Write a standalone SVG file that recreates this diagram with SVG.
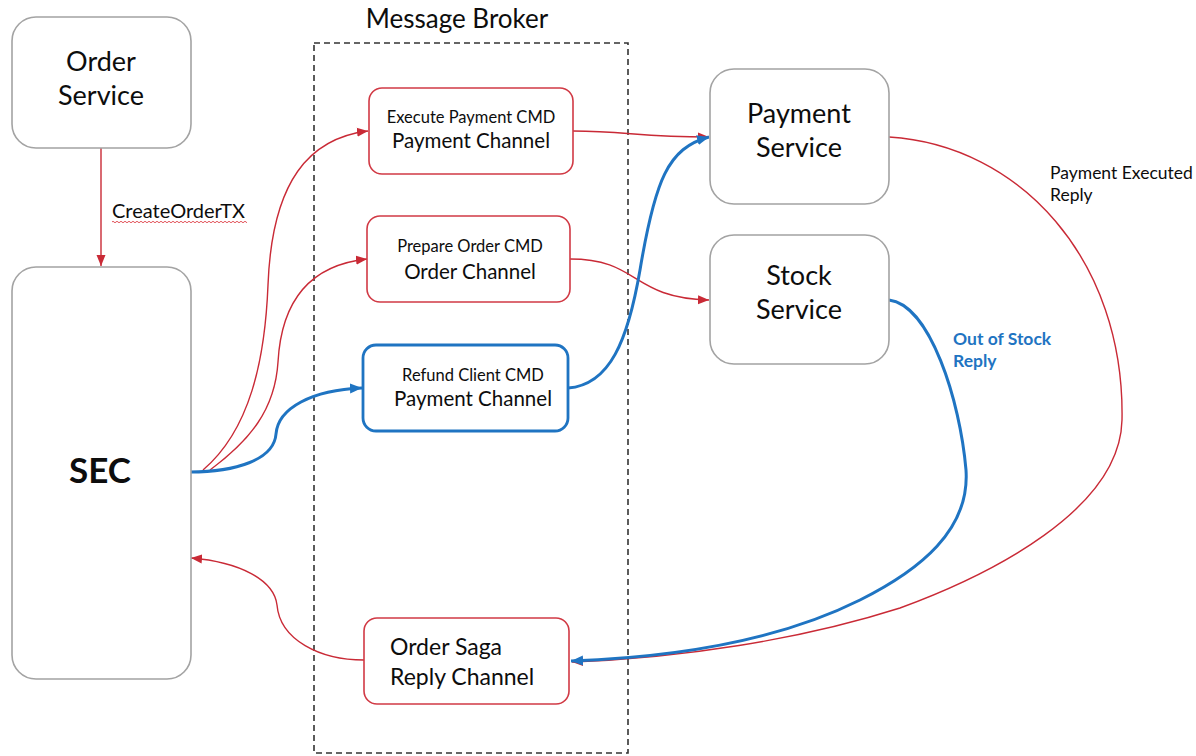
<svg xmlns="http://www.w3.org/2000/svg" width="1196" height="756" viewBox="0 0 1196 756">
  <style>
    text { font-family: Lato, "Open Sans", sans-serif; fill: #0d0d0d; }
    .svc { fill: #fff; stroke: #a3a3a3; stroke-width: 1.6; }
    .chan-red { fill: #fff; stroke: #d13a45; stroke-width: 1.6; }
    .chan-blue { fill: #fff; stroke: #1f74c2; stroke-width: 2.8; }
    .broker { fill: none; stroke: #333; stroke-width: 1.6; stroke-dasharray: 6 4; }
    .red { fill: none; stroke: #c92a36; stroke-width: 1.4; }
    .blue { fill: none; stroke: #1f74c2; stroke-width: 3; }
    .big { font-size: 27px; text-anchor: middle; }
    .cmd { font-size: 16.5px; text-anchor: middle; }
    .ch { font-size: 20.5px; text-anchor: middle; }
    .note { font-size: 17.5px; }
  </style>
  <defs>
    <marker id="ah-red" markerUnits="userSpaceOnUse" markerWidth="12" markerHeight="10" refX="11" refY="5" orient="auto">
      <path d="M0,0.5 L11,5 L0,9.5 z" fill="#c92a36"/>
    </marker>
    <marker id="ah-blue" markerUnits="userSpaceOnUse" markerWidth="13" markerHeight="12" refX="12" refY="6" orient="auto">
      <path d="M0,1 L12,6 L0,11 z" fill="#1f74c2"/>
    </marker>
    <pattern id="squiggle" width="4" height="4" patternUnits="userSpaceOnUse">
      <path d="M0 2 Q1 0.5 2 2 T4 2" fill="none" stroke="#d9262e" stroke-width="0.8"/>
    </pattern>
  </defs>

  <!-- broker boundary -->
  <g id="message-broker">
    <rect class="broker" x="314" y="43" width="314" height="710"/>
    <text x="457" y="28" font-size="26" text-anchor="middle">Message Broker</text>
  </g>

  <!-- connectors -->
  <g id="connectors">
    <path class="red" d="M101 148 L101 266" marker-end="url(#ah-red)"/>
    <path class="red" d="M203 470 C250 430, 265 360, 268 285 C272 180, 310 138, 368 131" marker-end="url(#ah-red)"/>
    <path class="red" d="M210 470 C250 440, 275 410, 278 362 C282 290, 320 264, 367 259" marker-end="url(#ah-red)"/>
    <path class="blue" d="M190 472 C235 472, 274 460, 276 434 C278 408, 312 390, 362 388" marker-end="url(#ah-blue)"/>
    <path class="red" d="M573 131 C625 131, 640 137, 709 137" marker-end="url(#ah-red)"/>
    <path class="red" d="M570 259 C640 259, 630 298, 709 300" marker-end="url(#ah-red)"/>
    <path class="blue" d="M568 388 C610 385, 628 340, 640 270 C655 180, 668 148, 709 137" marker-end="url(#ah-blue)"/>
    <path class="red" d="M889 137 C1020 145, 1125 260, 1122 420 C1120 510, 990 575, 900 608 C800 640, 680 658, 572 662" marker-end="url(#ah-red)"/>
    <path class="blue" d="M889 300 C930 305, 960 400, 966 470 C970 530, 920 570, 860 600 C780 640, 680 657, 571 661" marker-end="url(#ah-blue)"/>
    <path class="red" d="M364 660 C320 660, 280 640, 277 605 C274 580, 240 562, 191 558" marker-end="url(#ah-red)"/>
    <text x="112" y="218" font-size="20">CreateOrderTX</text>
    <rect x="112" y="220" width="135" height="4" fill="url(#squiggle)"/>
    <text class="note" x="1050" y="179">Payment Executed</text>
    <text class="note" x="1050" y="201">Reply</text>
    <text class="note" x="953" y="345" font-weight="bold" style="fill:#1f74c2">Out of Stock</text>
    <text class="note" x="953" y="367" font-weight="bold" style="fill:#1f74c2">Reply</text>
  </g>

  <g id="order-service">
    <rect class="svc" x="12" y="17" width="179" height="131" rx="24"/>
    <text class="big" x="101" y="71">Order</text>
    <text class="big" x="101" y="105">Service</text>
  </g>

  <g id="sec">
    <rect class="svc" x="12" y="267" width="179" height="412" rx="24"/>
    <text x="100" y="483" font-size="35" font-weight="bold" text-anchor="middle">SEC</text>
  </g>

  <g id="execute-payment-channel">
    <rect class="chan-red" x="369" y="88" width="204" height="86" rx="13"/>
    <text class="cmd" x="471" y="123">Execute Payment CMD</text>
    <text class="ch" x="471" y="148">Payment Channel</text>
  </g>

  <g id="prepare-order-channel">
    <rect class="chan-red" x="367" y="216" width="203" height="86" rx="13"/>
    <text class="cmd" x="470" y="252">Prepare Order CMD</text>
    <text class="ch" x="470" y="279">Order Channel</text>
  </g>

  <g id="refund-client-channel">
    <rect class="chan-blue" x="363" y="345" width="205" height="86" rx="13"/>
    <text class="cmd" x="473" y="381">Refund Client CMD</text>
    <text class="ch" x="473" y="406">Payment Channel</text>
  </g>

  <g id="order-saga-reply-channel">
    <rect class="chan-red" x="364" y="618" width="205" height="86" rx="13"/>
    <text x="390" y="655" font-size="23">Order Saga</text>
    <text x="390" y="685" font-size="23">Reply Channel</text>
  </g>

  <g id="payment-service">
    <rect class="svc" x="710" y="69" width="179" height="135" rx="24"/>
    <text class="big" x="799" y="123">Payment</text>
    <text class="big" x="799" y="157">Service</text>
  </g>

  <g id="stock-service">
    <rect class="svc" x="710" y="235" width="179" height="129" rx="24"/>
    <text class="big" x="799" y="285">Stock</text>
    <text class="big" x="799" y="319">Service</text>
  </g>
</svg>
